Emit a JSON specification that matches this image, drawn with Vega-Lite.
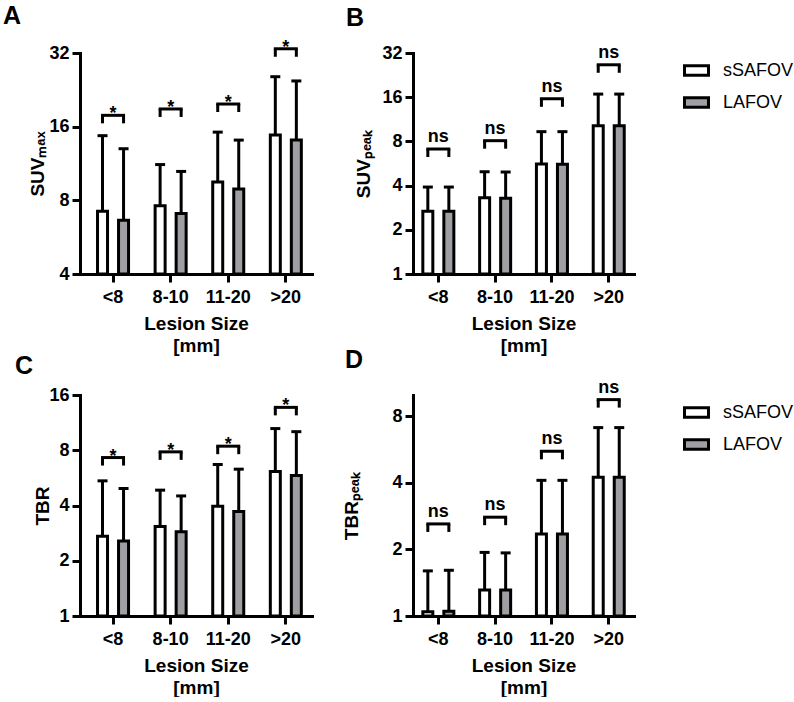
{
  "$schema": "https://vega.github.io/schema/vega-lite/v6.json",
  "padding": {"left": 3, "top": 3, "right": 0, "bottom": 0},
  "bounds": "flush",
  "spacing": {"row": 121, "column": 101},
  "columns": 2,
  "resolve": {"scale": {"fill": "independent"}, "legend": {"fill": "independent"}},
  "config": {
    "view": {"stroke": null},
    "font": "Liberation Sans",
    "axis": {
      "domainColor": "black", "domainWidth": 3, "domainCap": "square",
      "tickColor": "black", "tickWidth": 3, "tickSize": 8,
      "labelFont": "Liberation Sans", "labelFontSize": 18, "labelFontWeight": "bold", "labelColor": "black",
      "titleFont": "Liberation Sans", "titleFontSize": 19, "titleFontWeight": "bold", "titleColor": "black",
      "grid": false
    },
    "axisX": {"labelPadding": 6, "titlePadding": 8, "titleLineHeight": 22, "labelAngle": 0},
    "axisY": {"labelPadding": 3, "minExtent": 30, "maxExtent": 30, "titleBaseline": "alphabetic"},
    "title": {"font": "Liberation Sans", "fontSize": 25, "fontWeight": "bold", "color": "black", "anchor": "start", "frame": "group", "baseline": "alphabetic"}
  },
  "datasets": {
    "bars": [
      {"panel": "A", "size": "<8", "group": "sSAFOV", "mean": 7.22, "err": 14.7, "br": 17.8, "sig": "*"},
      {"panel": "A", "size": "<8", "group": "LAFOV", "mean": 6.64, "err": 13.0, "br": 17.8, "sig": "*"},
      {"panel": "A", "size": "8-10", "group": "sSAFOV", "mean": 7.6, "err": 11.2, "br": 18.9, "sig": "*"},
      {"panel": "A", "size": "8-10", "group": "LAFOV", "mean": 7.07, "err": 10.5, "br": 18.9, "sig": "*"},
      {"panel": "A", "size": "11-20", "group": "sSAFOV", "mean": 9.5, "err": 15.2, "br": 19.8, "sig": "*"},
      {"panel": "A", "size": "11-20", "group": "LAFOV", "mean": 8.9, "err": 14.1, "br": 19.8, "sig": "*"},
      {"panel": "A", "size": ">20", "group": "sSAFOV", "mean": 14.8, "err": 25.6, "br": 33.3, "sig": "*"},
      {"panel": "A", "size": ">20", "group": "LAFOV", "mean": 14.1, "err": 24.6, "br": 33.3, "sig": "*"},

      {"panel": "B", "size": "<8", "group": "sSAFOV", "mean": 2.68, "err": 3.91, "br": 7.1, "sig": "ns"},
      {"panel": "B", "size": "<8", "group": "LAFOV", "mean": 2.68, "err": 3.91, "br": 7.1, "sig": "ns"},
      {"panel": "B", "size": "8-10", "group": "sSAFOV", "mean": 3.3, "err": 4.97, "br": 8.09, "sig": "ns"},
      {"panel": "B", "size": "8-10", "group": "LAFOV", "mean": 3.28, "err": 4.95, "br": 8.09, "sig": "ns"},
      {"panel": "B", "size": "11-20", "group": "sSAFOV", "mean": 5.61, "err": 9.32, "br": 15.6, "sig": "ns"},
      {"panel": "B", "size": "11-20", "group": "LAFOV", "mean": 5.6, "err": 9.32, "br": 15.6, "sig": "ns"},
      {"panel": "B", "size": ">20", "group": "sSAFOV", "mean": 10.24, "err": 16.8, "br": 26.6, "sig": "ns"},
      {"panel": "B", "size": ">20", "group": "LAFOV", "mean": 10.24, "err": 16.8, "br": 26.6, "sig": "ns"},

      {"panel": "C", "size": "<8", "group": "sSAFOV", "mean": 2.72, "err": 5.45, "br": 7.3, "sig": "*"},
      {"panel": "C", "size": "<8", "group": "LAFOV", "mean": 2.56, "err": 4.95, "br": 7.3, "sig": "*"},
      {"panel": "C", "size": "8-10", "group": "sSAFOV", "mean": 3.07, "err": 4.85, "br": 7.84, "sig": "*"},
      {"panel": "C", "size": "8-10", "group": "LAFOV", "mean": 2.88, "err": 4.51, "br": 7.84, "sig": "*"},
      {"panel": "C", "size": "11-20", "group": "sSAFOV", "mean": 3.96, "err": 6.69, "br": 8.42, "sig": "*"},
      {"panel": "C", "size": "11-20", "group": "LAFOV", "mean": 3.71, "err": 6.31, "br": 8.42, "sig": "*"},
      {"panel": "C", "size": ">20", "group": "sSAFOV", "mean": 6.12, "err": 10.5, "br": 13.7, "sig": "*"},
      {"panel": "C", "size": ">20", "group": "LAFOV", "mean": 5.82, "err": 10.1, "br": 13.7, "sig": "*"},

      {"panel": "D", "size": "<8", "group": "sSAFOV", "mean": 1.046, "err": 1.6, "br": 2.61, "sig": "ns"},
      {"panel": "D", "size": "<8", "group": "LAFOV", "mean": 1.05, "err": 1.61, "br": 2.61, "sig": "ns"},
      {"panel": "D", "size": "8-10", "group": "sSAFOV", "mean": 1.31, "err": 1.94, "br": 2.8, "sig": "ns"},
      {"panel": "D", "size": "8-10", "group": "LAFOV", "mean": 1.31, "err": 1.93, "br": 2.8, "sig": "ns"},
      {"panel": "D", "size": "11-20", "group": "sSAFOV", "mean": 2.35, "err": 4.11, "br": 5.56, "sig": "ns"},
      {"panel": "D", "size": "11-20", "group": "LAFOV", "mean": 2.35, "err": 4.11, "br": 5.56, "sig": "ns"},
      {"panel": "D", "size": ">20", "group": "sSAFOV", "mean": 4.25, "err": 7.12, "br": 9.53, "sig": "ns"},
      {"panel": "D", "size": ">20", "group": "LAFOV", "mean": 4.25, "err": 7.12, "br": 9.53, "sig": "ns"}
    ]
  },
  "concat": [
    {
      "width": 232, "height": 221,
      "title": {"text": "A", "dx": -77, "offset": 10},
      "data": {"name": "bars"},
      "transform": [{"filter": "datum.panel === 'A'"}],
      "encoding": {
        "x": {"field": "size", "type": "nominal", "sort": ["<8", "8-10", "11-20", ">20"],
              "scale": {"paddingInner": 0.27, "paddingOuter": 0.149, "align": 0.7},
              "axis": {"title": ["Lesion Size", "[mm]"]}}
      },
      "layer": [
        {
          "mark": {"type": "bar", "size": 10, "stroke": "black", "strokeWidth": 3},
          "encoding": {
            "xOffset": {"field": "group", "type": "nominal", "sort": ["sSAFOV", "LAFOV"], "scale": {"paddingInner": 0, "paddingOuter": 0}},
            "y": {"field": "mean", "type": "quantitative", "title": "SUVₘₐₓ",
                  "scale": {"type": "log", "domain": [4, 32], "nice": false},
                  "axis": {"values": [4, 8, 16, 32], "format": "~g", "titlePadding": 7}},
            "y2": {"datum": 4},
            "fill": {"field": "group", "type": "nominal", "scale": {"domain": ["sSAFOV", "LAFOV"], "range": ["#ffffff", "#9f9fa3"]}, "legend": null}
          }
        },
        {
          "mark": {"type": "rule", "color": "black", "strokeWidth": 3},
          "encoding": {
            "xOffset": {"field": "group", "type": "nominal", "sort": ["sSAFOV", "LAFOV"]},
            "y": {"field": "mean", "type": "quantitative", "title": "SUVₘₐₓ"},
            "y2": {"field": "err"}
          }
        },
        {
          "mark": {"type": "tick", "color": "black", "size": 10, "thickness": 3, "opacity": 1},
          "encoding": {
            "xOffset": {"field": "group", "type": "nominal", "sort": ["sSAFOV", "LAFOV"]},
            "y": {"field": "err", "type": "quantitative", "title": "SUVₘₐₓ"}
          }
        },
        {
          "mark": {"type": "rule", "color": "black", "strokeWidth": 3, "y2Offset": 8},
          "encoding": {
            "xOffset": {"field": "group", "type": "nominal", "sort": ["sSAFOV", "LAFOV"]},
            "y": {"field": "br", "type": "quantitative", "title": "SUVₘₐₓ"},
            "y2": {"field": "br"}
          }
        },
        {
          "transform": [{"filter": "datum.group === 'sSAFOV'"}],
          "mark": {"type": "tick", "color": "black", "size": 24, "thickness": 3, "opacity": 1},
          "encoding": {"y": {"field": "br", "type": "quantitative", "title": "SUVₘₐₓ"}}
        },
        {
          "transform": [{"filter": "datum.group === 'sSAFOV'"}],
          "mark": {"type": "text", "baseline": "alphabetic", "dy": 4, "fontSize": 18, "fontWeight": "bold", "color": "black"},
          "encoding": {"y": {"field": "br", "type": "quantitative", "title": "SUVₘₐₓ"}, "text": {"field": "sig"}}
        }
      ]
    },
    {
      "width": 221, "height": 221,
      "title": {"text": "B", "dx": -67, "offset": 13},
      "data": {"name": "bars"},
      "transform": [{"filter": "datum.panel === 'B'"}],
      "encoding": {
        "x": {"field": "size", "type": "nominal", "sort": ["<8", "8-10", "11-20", ">20"],
              "scale": {"paddingInner": 0.261, "paddingOuter": 0.076},
              "axis": {"title": ["Lesion Size", "[mm]"]}}
      },
      "layer": [
        {
          "mark": {"type": "bar", "size": 10, "stroke": "black", "strokeWidth": 3},
          "encoding": {
            "xOffset": {"field": "group", "type": "nominal", "sort": ["sSAFOV", "LAFOV"], "scale": {"paddingInner": 0, "paddingOuter": 0}},
            "y": {"field": "mean", "type": "quantitative", "title": "SUVₚₑₐₖ",
                  "scale": {"type": "log", "domain": [1, 32], "nice": false},
                  "axis": {"values": [1, 2, 4, 8, 16, 32], "format": "~g", "titlePadding": 14}},
            "y2": {"datum": 1},
            "fill": {"field": "group", "type": "nominal", "scale": {"domain": ["sSAFOV", "LAFOV"], "range": ["#ffffff", "#9f9fa3"]},
                     "legend": {"title": null, "orient": "right", "offset": 45, "padding": 4,
                                "symbolType": "M-1,-0.4H1V0.4H-1Z", "symbolSize": 576,
                                "symbolStrokeColor": "black", "symbolStrokeWidth": 3,
                                "labelFont": "Liberation Sans", "labelFontSize": 18, "labelFontWeight": "normal",
                                "labelColor": "black", "labelOffset": 13, "rowPadding": 7, "labelLimit": 200}}
          }
        },
        {
          "mark": {"type": "rule", "color": "black", "strokeWidth": 3},
          "encoding": {
            "xOffset": {"field": "group", "type": "nominal", "sort": ["sSAFOV", "LAFOV"]},
            "y": {"field": "mean", "type": "quantitative", "title": "SUVₚₑₐₖ"},
            "y2": {"field": "err"}
          }
        },
        {
          "mark": {"type": "tick", "color": "black", "size": 10, "thickness": 3, "opacity": 1},
          "encoding": {
            "xOffset": {"field": "group", "type": "nominal", "sort": ["sSAFOV", "LAFOV"]},
            "y": {"field": "err", "type": "quantitative", "title": "SUVₚₑₐₖ"}
          }
        },
        {
          "mark": {"type": "rule", "color": "black", "strokeWidth": 3, "y2Offset": 8},
          "encoding": {
            "xOffset": {"field": "group", "type": "nominal", "sort": ["sSAFOV", "LAFOV"]},
            "y": {"field": "br", "type": "quantitative", "title": "SUVₚₑₐₖ"},
            "y2": {"field": "br"}
          }
        },
        {
          "transform": [{"filter": "datum.group === 'sSAFOV'"}],
          "mark": {"type": "tick", "color": "black", "size": 24, "thickness": 3, "opacity": 1},
          "encoding": {"y": {"field": "br", "type": "quantitative", "title": "SUVₚₑₐₖ"}}
        },
        {
          "transform": [{"filter": "datum.group === 'sSAFOV'"}],
          "mark": {"type": "text", "baseline": "alphabetic", "dy": -7, "fontSize": 18, "fontWeight": "bold", "color": "black"},
          "encoding": {"y": {"field": "br", "type": "quantitative", "title": "SUVₚₑₐₖ"}, "text": {"field": "sig"}}
        }
      ]
    },
    {
      "width": 232, "height": 221,
      "title": {"text": "C", "dx": -65, "offset": 7},
      "data": {"name": "bars"},
      "transform": [{"filter": "datum.panel === 'C'"}],
      "encoding": {
        "x": {"field": "size", "type": "nominal", "sort": ["<8", "8-10", "11-20", ">20"],
              "scale": {"paddingInner": 0.27, "paddingOuter": 0.149, "align": 0.7},
              "axis": {"title": ["Lesion Size", "[mm]"]}}
      },
      "layer": [
        {
          "mark": {"type": "bar", "size": 10, "stroke": "black", "strokeWidth": 3},
          "encoding": {
            "xOffset": {"field": "group", "type": "nominal", "sort": ["sSAFOV", "LAFOV"], "scale": {"paddingInner": 0, "paddingOuter": 0}},
            "y": {"field": "mean", "type": "quantitative", "title": "TBR",
                  "scale": {"type": "log", "domain": [1, 16], "nice": false},
                  "axis": {"values": [1, 2, 4, 8, 16], "format": "~g", "titlePadding": 2}},
            "y2": {"datum": 1},
            "fill": {"field": "group", "type": "nominal", "scale": {"domain": ["sSAFOV", "LAFOV"], "range": ["#ffffff", "#9f9fa3"]}, "legend": null}
          }
        },
        {
          "mark": {"type": "rule", "color": "black", "strokeWidth": 3},
          "encoding": {
            "xOffset": {"field": "group", "type": "nominal", "sort": ["sSAFOV", "LAFOV"]},
            "y": {"field": "mean", "type": "quantitative", "title": "TBR"},
            "y2": {"field": "err"}
          }
        },
        {
          "mark": {"type": "tick", "color": "black", "size": 10, "thickness": 3, "opacity": 1},
          "encoding": {
            "xOffset": {"field": "group", "type": "nominal", "sort": ["sSAFOV", "LAFOV"]},
            "y": {"field": "err", "type": "quantitative", "title": "TBR"}
          }
        },
        {
          "mark": {"type": "rule", "color": "black", "strokeWidth": 3, "y2Offset": 8},
          "encoding": {
            "xOffset": {"field": "group", "type": "nominal", "sort": ["sSAFOV", "LAFOV"]},
            "y": {"field": "br", "type": "quantitative", "title": "TBR"},
            "y2": {"field": "br"}
          }
        },
        {
          "transform": [{"filter": "datum.group === 'sSAFOV'"}],
          "mark": {"type": "tick", "color": "black", "size": 24, "thickness": 3, "opacity": 1},
          "encoding": {"y": {"field": "br", "type": "quantitative", "title": "TBR"}}
        },
        {
          "transform": [{"filter": "datum.group === 'sSAFOV'"}],
          "mark": {"type": "text", "baseline": "alphabetic", "dy": 4, "fontSize": 18, "fontWeight": "bold", "color": "black"},
          "encoding": {"y": {"field": "br", "type": "quantitative", "title": "TBR"}, "text": {"field": "sig"}}
        }
      ]
    },
    {
      "width": 221, "height": 221,
      "title": {"text": "D", "dx": -68, "offset": 6},
      "data": {"name": "bars"},
      "transform": [{"filter": "datum.panel === 'D'"}],
      "encoding": {
        "x": {"field": "size", "type": "nominal", "sort": ["<8", "8-10", "11-20", ">20"],
              "scale": {"paddingInner": 0.261, "paddingOuter": 0.076},
              "axis": {"title": ["Lesion Size", "[mm]"]}}
      },
      "layer": [
        {
          "mark": {"type": "bar", "size": 10, "stroke": "black", "strokeWidth": 3},
          "encoding": {
            "xOffset": {"field": "group", "type": "nominal", "sort": ["sSAFOV", "LAFOV"], "scale": {"paddingInner": 0, "paddingOuter": 0}},
            "y": {"field": "mean", "type": "quantitative", "title": "TBRₚₑₐₖ",
                  "scale": {"type": "log", "domain": [1, 10], "nice": false},
                  "axis": {"values": [1, 2, 4, 8], "format": "~g", "titlePadding": 26}},
            "y2": {"datum": 1},
            "fill": {"field": "group", "type": "nominal", "scale": {"domain": ["sSAFOV", "LAFOV"], "range": ["#ffffff", "#9f9fa3"]},
                     "legend": {"title": null, "orient": "right", "offset": 45, "padding": 4,
                                "symbolType": "M-1,-0.4H1V0.4H-1Z", "symbolSize": 576,
                                "symbolStrokeColor": "black", "symbolStrokeWidth": 3,
                                "labelFont": "Liberation Sans", "labelFontSize": 18, "labelFontWeight": "normal",
                                "labelColor": "black", "labelOffset": 13, "rowPadding": 7, "labelLimit": 200}}
          }
        },
        {
          "mark": {"type": "rule", "color": "black", "strokeWidth": 3},
          "encoding": {
            "xOffset": {"field": "group", "type": "nominal", "sort": ["sSAFOV", "LAFOV"]},
            "y": {"field": "mean", "type": "quantitative", "title": "TBRₚₑₐₖ"},
            "y2": {"field": "err"}
          }
        },
        {
          "mark": {"type": "tick", "color": "black", "size": 10, "thickness": 3, "opacity": 1},
          "encoding": {
            "xOffset": {"field": "group", "type": "nominal", "sort": ["sSAFOV", "LAFOV"]},
            "y": {"field": "err", "type": "quantitative", "title": "TBRₚₑₐₖ"}
          }
        },
        {
          "mark": {"type": "rule", "color": "black", "strokeWidth": 3, "y2Offset": 8},
          "encoding": {
            "xOffset": {"field": "group", "type": "nominal", "sort": ["sSAFOV", "LAFOV"]},
            "y": {"field": "br", "type": "quantitative", "title": "TBRₚₑₐₖ"},
            "y2": {"field": "br"}
          }
        },
        {
          "transform": [{"filter": "datum.group === 'sSAFOV'"}],
          "mark": {"type": "tick", "color": "black", "size": 24, "thickness": 3, "opacity": 1},
          "encoding": {"y": {"field": "br", "type": "quantitative", "title": "TBRₚₑₐₖ"}}
        },
        {
          "transform": [{"filter": "datum.group === 'sSAFOV'"}],
          "mark": {"type": "text", "baseline": "alphabetic", "dy": -7, "fontSize": 18, "fontWeight": "bold", "color": "black"},
          "encoding": {"y": {"field": "br", "type": "quantitative", "title": "TBRₚₑₐₖ"}, "text": {"field": "sig"}}
        }
      ]
    }
  ]
}
